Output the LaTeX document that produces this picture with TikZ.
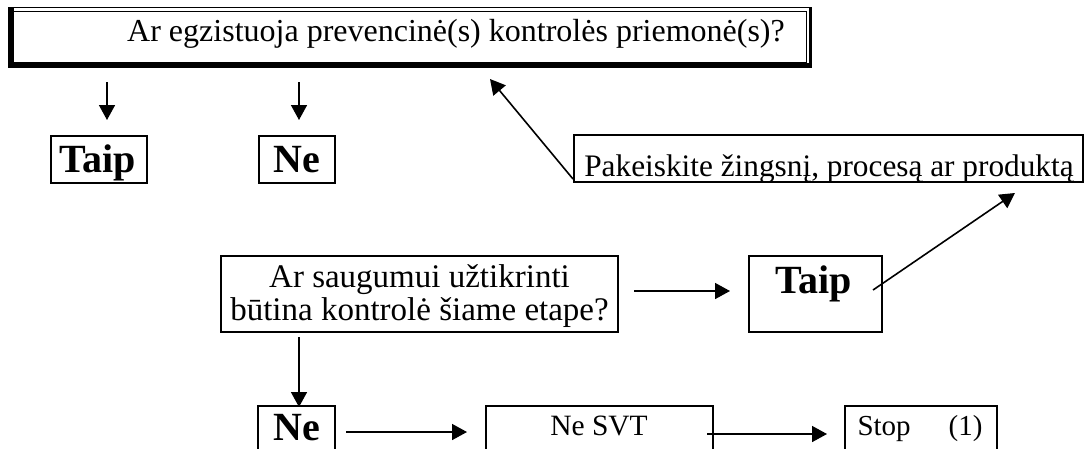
\documentclass[tikz,border=0pt]{standalone}
\usepackage{fontspec}
\setmainfont{Liberation Serif}
\usetikzlibrary{arrows.meta,calc}
\begin{document}
\begin{tikzpicture}[x=1pt,y=-1pt,
  box/.style={draw, line width=1.8pt, inner sep=0pt},
  arr/.style={line width=1.6pt, -{Triangle[length=15pt,width=16pt]}},
  txt/.style={font=\fontsize{32}{36}\selectfont, inner sep=0pt, anchor=base},
  btxt/.style={font=\fontsize{40}{44}\selectfont\bfseries, inner sep=0pt, anchor=base}]
\clip (0,0) rectangle (1086,448);
\fill[white] (0,0) rectangle (1086,448);
% top question box with double border
\node[inner sep=0pt, minimum width=802pt, minimum height=59pt] (q1) at (410,37.5) {};
\draw[line width=1.3pt] (q1.north west) rectangle (q1.south east);
\draw[line width=1pt] (13,11.5) rectangle (806,62.5);
\fill (9,8) rectangle (13.5,67);
\fill (9,63) rectangle (811,67);
\fill (808.5,8) rectangle (811,67);
\node[txt] (q1t) at (456,41.7) {Ar egzistuoja prevencinė(s) kontrolės priemonė(s)?};
% boxes
\node[box, minimum width=96pt, minimum height=47pt] (taip1) at (99,159.5) {};
\node[btxt] (taip1t) at (98,172) {Taip};
\node[box, minimum width=76pt, minimum height=47pt] (ne1) at (297,159.5) {};
\node[btxt] (ne1t) at (297,172) {Ne};
\node[box, minimum width=509pt, minimum height=47pt] (pak) at (828.5,158.5) {};
\node[txt, font=\fontsize{31.3}{36}\selectfont] (pakt) at (829,176) {Pakeiskite žingsnį, procesą ar produktą};
\node[box, minimum width=397pt, minimum height=76pt] (q2) at (419.5,294) {};
\node[txt, font=\fontsize{33}{36}\selectfont] (q2a) at (419.5,287) {Ar saugumui užtikrinti};
\node[txt, font=\fontsize{33}{36}\selectfont] (q2b) at (419.5,320) {būtina kontrolė šiame etape?};
\node[box, minimum width=133pt, minimum height=76pt] (taip2) at (815.5,294) {};
\node[btxt] (taip2t) at (814,293) {Taip};
\node[box, minimum width=77pt, minimum height=64pt] (ne2) at (296.5,438) {};
\node[btxt] (ne2t) at (296.5,440) {Ne};
\node[box, minimum width=227pt, minimum height=64pt] (nesvt) at (599.5,438) {};
\node[txt, font=\fontsize{29.5}{33}\selectfont] (nesvtt) at (599,435) {Ne SVT};
\node[box, minimum width=152pt, minimum height=64pt] (stop) at (921,438) {};
\node[txt, font=\fontsize{29}{33}\selectfont] (stopt) at (920,435) {Stop\hspace{38pt}(1)};
% connector end points
\coordinate (a1s) at (107,82);  \coordinate (a1e) at (107,120);
\coordinate (a2s) at (299,82);  \coordinate (a2e) at (299,120);
\coordinate (a3s) at (573,179); \coordinate (a3e) at (490,79);
\coordinate (a4s) at (634,291); \coordinate (a4e) at (730,291);
\coordinate (a5s) at (873,290); \coordinate (a5e) at (1015,193);
\coordinate (a6s) at (299,337); \coordinate (a6e) at (299,407);
\coordinate (a7s) at (346,432); \coordinate (a7e) at (467,432);
\coordinate (a8s) at (707,434); \coordinate (a8e) at (827,434);
\draw[arr] (a1s) -- (a1e);
\draw[arr] (a2s) -- (a2e);
\draw[arr] (a3s) -- (a3e);
\draw[arr] (a4s) -- (a4e);
\draw[arr] (a5s) -- (a5e);
\draw[arr] (a6s) -- (a6e);
\draw[arr] (a7s) -- (a7e);
\draw[arr] (a8s) -- (a8e);
\end{tikzpicture}
\end{document}
